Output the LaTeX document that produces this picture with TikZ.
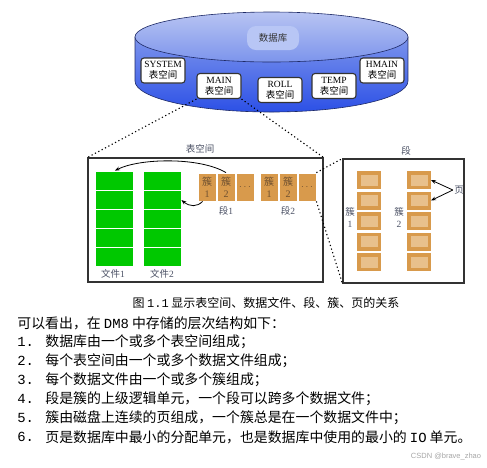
\documentclass[tikz,border=0pt]{standalone}
\usepackage{fontspec}
\setmainfont{Liberation Serif}
\setmonofont{Liberation Mono}
\setsansfont{Liberation Sans}
\newfontfamily\cjk{Noto Sans CJK SC}
\newcommand{\zh}[1]{{\cjk #1}}
\usetikzlibrary{arrows.meta, positioning}
\definecolor{cdark}{HTML}{333333}
\definecolor{cnavy}{HTML}{1E2A66}
\definecolor{clabel}{HTML}{4A5064}
\definecolor{cgreen}{HTML}{00C800}
\definecolor{ctan}{HTML}{D89A4C}
\definecolor{cpale}{HTML}{E8C08C}
\definecolor{ctop}{HTML}{B8C4F2}
\definecolor{cmid}{HTML}{7C94EC}
\definecolor{cdeep}{HTML}{2C50E6}
\definecolor{cblob}{HTML}{B8C6F5}
\definecolor{cbrown}{HTML}{6E5030}
\tikzset{
  every picture/.style={line width=0.8pt},
  tsbox/.style={draw=cdark, fill=white, rounded corners=3pt, align=center, line width=1.1pt,
                minimum width=44pt, minimum height=25pt, inner sep=1pt, font=\fontsize{9.5}{11}\selectfont},
  dbtag/.style={fill=cblob, rounded corners=9pt, minimum width=52pt, minimum height=24pt,
                font=\fontsize{9.5}{11}\selectfont\cjk, text=cdark},
  tsframe/.style={draw=cdark, line width=1.1pt, inner sep=0pt},
  fileblk/.style={fill=cgreen, draw=white, line width=0.8pt, minimum width=38pt, minimum height=19pt, inner sep=0pt},
  clus/.style={fill=ctan, draw=white, line width=0.8pt, minimum width=18pt, minimum height=28pt, inner sep=0pt,
               align=center, text=cbrown, font=\fontsize{10}{12}\selectfont},
  pageblk/.style={fill=cpale, draw=ctan, line width=3.5pt, minimum width=20.5pt, minimum height=14.5pt, inner sep=0pt},
  lbl/.style={text=clabel, align=center, inner sep=1pt, font=\fontsize{9.5}{12}\selectfont},
  arrow/.style={-{Stealth[length=5pt]}, draw=black, line width=0.8pt},
  zoomline/.style={dash pattern=on 1.2pt off 2.6pt, line width=1.1pt},
  caption/.style={inner sep=0pt, font=\fontsize{12}{14}\selectfont\cjk},
  body/.style={anchor=west, inner sep=0pt, font=\fontsize{13.9}{16}\selectfont\cjk},
  num/.style={anchor=west, inner sep=0pt, font=\fontsize{13.9}{16}\selectfont\ttfamily},
}
\begin{document}
\begin{tikzpicture}[x=1pt, y=-1pt]
  \useasboundingbox (0,0) rectangle (487,467);
  % database disc
  \shade[top color=cmid, bottom color=cdeep, draw=cnavy, line width=0.6pt]
    (135,37) -- (135,81) arc[start angle=180, end angle=360, x radius=136.5pt, y radius=31pt] -- (408,37) -- cycle;
  \shade[top color=ctop, bottom color=cmid, draw=cnavy, line width=0.6pt]
    (271.5,37) ellipse[x radius=136.5pt, y radius=25pt];
  \node[dbtag] (db) at (273,38) {数据库};
  \node[tsbox] (sys)   at (163,70.5) {SYSTEM\\\zh{表空间}};
  \node[tsbox] (main)  at (219,86)   {MAIN\\\zh{表空间}};
  \node[tsbox] (roll)  at (280,90)   {ROLL\\\zh{表空间}};
  \node[tsbox] (temp)  at (334,86)   {TEMP\\\zh{表空间}};
  \node[tsbox] (hmain) at (382,70.5) {HMAIN\\\zh{表空间}};
  % tablespace
  \node[tsframe, minimum width=235pt, minimum height=124pt] (ts) at (205.5,220) {};
  \node[lbl] (tslbl) at (200,149) {\zh{表空间}};
  \foreach \r in {1,...,5} {
    \node[fileblk] (fa\r) at (114,{162+19*\r}) {};
    \node[fileblk] (fb\r) at (162,{162+19*\r}) {};
  }
  \node[lbl] (fname1) at (113,274) {\zh{文件}1};
  \node[lbl] (fname2) at (162,274) {\zh{文件}2};
  \foreach \n/\x in {1/207, 2/226} {
    \node[clus] (sa\n) at (\x,187) {\zh{簇}\\\n};
  }
  \node[clus] (sa3) at (245,187) {$\cdots$};
  \foreach \n/\x in {1/269, 2/288} {
    \node[clus] (sb\n) at (\x,187) {\zh{簇}\\\n};
  }
  \node[clus] (sb3) at (307,187) {$\cdots$};
  \node[lbl] (sname1) at (226,211) {\zh{段}1};
  \node[lbl] (sname2) at (288,211) {\zh{段}2};
  \draw[arrow, shorten >=1pt] (sa2.north) .. controls (200,157) and (140,158) .. (fa1.north);
  \draw[arrow] ([xshift=5pt]sa1.south west) .. controls (197,207) and (190,207) .. (fb2.east);
  % segment
  \node[tsframe, minimum width=121pt, minimum height=124pt] (seg) at (403.5,221) {};
  \node[lbl] (seglbl) at (406,151) {\zh{段}};
  \foreach \r in {1,...,5} {
    \node[pageblk] (pa\r) at (369,{159.5+20.5*\r}) {};
    \node[pageblk] (pb\r) at (419,{159.5+20.5*\r}) {};
  }
  \node[lbl] (cname1) at (350,217) {\zh{簇}\\1};
  \node[lbl] (cname2) at (399,217) {\zh{簇}\\2};
  \node[lbl] (pglbl) at (459,190) {\zh{页}};
  \draw[arrow] (pglbl.west) -- (pb1.east);
  \draw[arrow] (pglbl.west) -- (pb2.east);
  % zoom lines
  \draw[zoomline] (main.south west) -- (ts.north west);
  \draw[zoomline] (main.south east) -- (ts.north east);
  \draw[zoomline] (sb3.north east) -- (seg.north west);
  \draw[zoomline] (sb3.south east) -- (seg.south west);
  % text below
  \node[caption] (cap) at (266,303) {图 \texttt{1.1} 显示表空间、数据文件、段、簇、页的关系};
  \node[body] (intro) at (17,323) {可以看出，在 \texttt{DM8} 中存储的层次结构如下：};
  \foreach \i/\txt in {1/{数据库由一个或多个表空间组成；},
                       2/{每个表空间由一个或多个数据文件组成；},
                       3/{每个数据文件由一个或多个簇组成；},
                       4/{段是簇的上级逻辑单元，一个段可以跨多个数据文件；},
                       5/{簇由磁盘上连续的页组成，一个簇总是在一个数据文件中；},
                       6/{页是数据库中最小的分配单元，也是数据库中使用的最小的 \texttt{IO} 单元。}} {
    \node[num] (n\i) at (17,{323+19*\i}) {\i.};
    \node[body] (t\i) at (45,{323+19*\i}) {\txt};
  }
  \node[font=\sffamily\fontsize{7.5}{8}\selectfont, text=black!35, inner sep=0pt] (wm) at (446,457) {CSDN @brave\_zhao};
\end{tikzpicture}
\end{document}
